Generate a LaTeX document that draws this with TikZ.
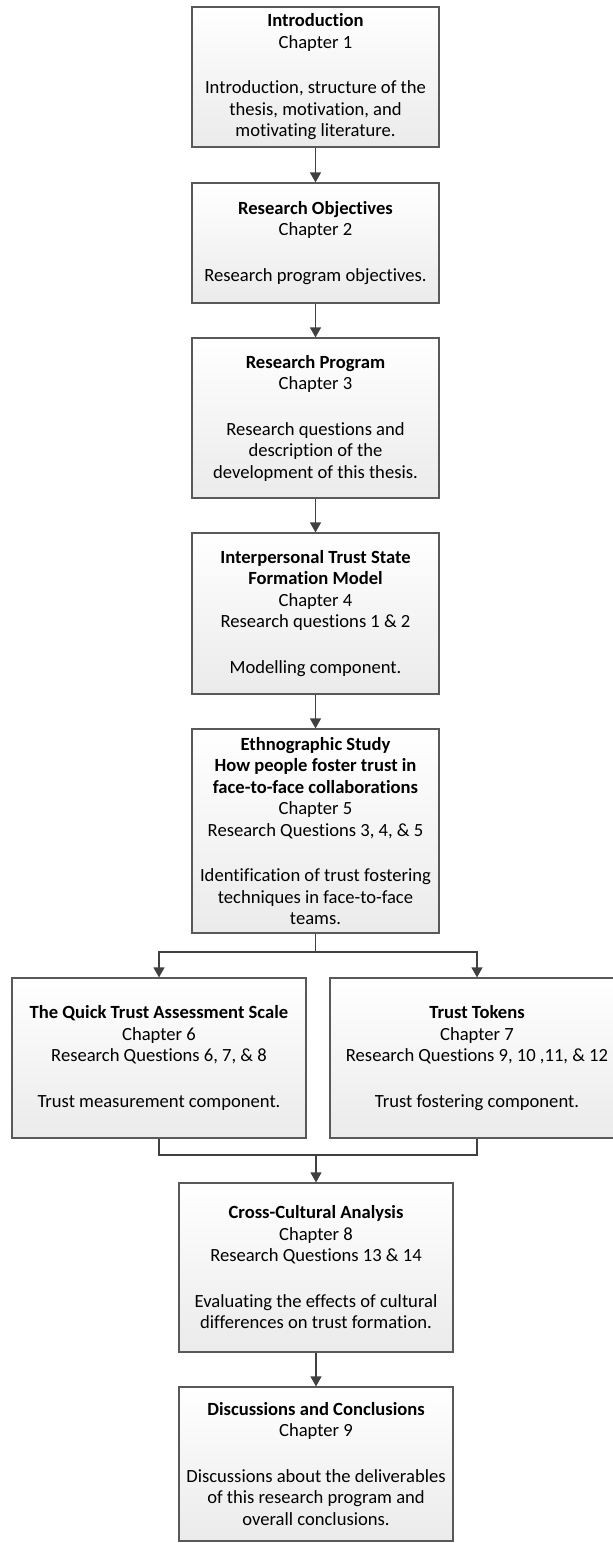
\documentclass[tikz,border=0pt]{standalone}
\usepackage{fontspec}
\setmainfont[Ligatures=NoCommon]{Carlito}
\usetikzlibrary{arrows.meta}
\definecolor{edge}{HTML}{595959}
\definecolor{wire}{HTML}{404040}
\begin{document}
\begin{tikzpicture}[x=1pt,y=-1pt,
  chapbox/.style={draw=edge, line width=1.2pt, top color=white, bottom color=black!8,
    align=center, inner sep=0pt, font=\fontsize{18.6}{21.5}\selectfont},
  mainbox/.style={chapbox, minimum width=247pt},
  widebox/.style={chapbox, minimum width=274pt},
  sidebox/.style={chapbox, minimum width=294pt, minimum height=160pt},
  link/.style={draw=wire, line width=1.3pt},
  flow/.style={link, -{Triangle[width=11pt,length=10pt]}}]
\useasboundingbox (0,0) rectangle (613,1543);

\node[mainbox, minimum height=140pt] (intro) at (315.5,77)
  {\textbf{Introduction}\\Chapter 1\\[24pt]Introduction, structure of the\\thesis, motivation, and\\motivating literature.};
\node[mainbox, minimum height=120pt] (objectives) at (315.5,243)
  {\textbf{Research Objectives}\\Chapter 2\\[24pt]Research program objectives.};
\node[mainbox, minimum height=160pt] (program) at (315.5,418)
  {\textbf{Research Program}\\Chapter 3\\[24pt]Research questions and\\description of the\\development of this thesis.};
\node[mainbox, minimum height=161pt] (model) at (315.5,613.5)
  {\textbf{Interpersonal Trust State}\\\textbf{Formation Model}\\Chapter 4\\Research questions 1 \& 2\\[24pt]Modelling component.};
\node[mainbox, minimum height=204pt] (ethno) at (315.5,831)
  {\textbf{Ethnographic Study}\\\textbf{How people foster trust in}\\\textbf{face-to-face collaborations}\\Chapter 5\\Research Questions 3, 4, \& 5\\[24pt]Identification of trust fostering\\techniques in face-to-face\\teams.};
\node[sidebox] (scale) at (159,1058)
  {\textbf{The Quick Trust Assessment Scale}\\Chapter 6\\Research Questions 6, 7, \& 8\\[24pt]Trust measurement component.};
\node[sidebox] (tokens) at (477,1058)
  {\textbf{Trust Tokens}\\Chapter 7\\Research Questions 9, 10 ,11, \& 12\\[24pt]Trust fostering component.};
\node[widebox, minimum height=169pt] (culture) at (316,1267.5)
  {\textbf{Cross-Cultural Analysis}\\Chapter 8\\Research Questions 13 \& 14\\[24pt]Evaluating the effects of cultural\\differences on trust formation.};
\node[widebox, minimum height=154pt] (concl) at (316,1464)
  {\textbf{Discussions and Conclusions}\\Chapter 9\\[24pt]Discussions about the deliverables\\of this research program and\\overall conclusions.};

% straight chain of chapters
\draw[flow] (intro) -- (objectives);
\draw[flow] (objectives) -- (program);
\draw[flow] (program) -- (model);
\draw[flow] (model) -- (ethno);

% fork into the two parallel chapters
\coordinate (fork) at (315.5,952);
\draw[link] (ethno.south) -- (fork);
\draw[flow] (fork) -| (scale.north);
\draw[flow] (fork) -| (tokens.north);

% join back into the cross-cultural chapter
\coordinate (join) at (316,1155);
\draw[link] (scale.south) |- (join) -| (tokens.south);
\draw[flow] (join) -- (culture.north);

\draw[flow] (culture) -- (concl);
\end{tikzpicture}
\end{document}
